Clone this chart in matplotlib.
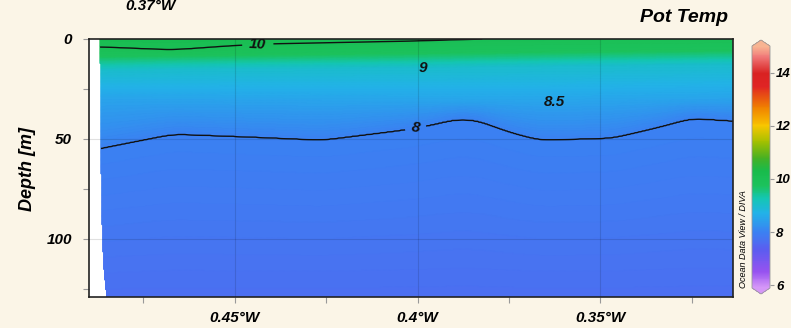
import numpy as np
import matplotlib.pyplot as plt
from matplotlib.colors import LinearSegmentedColormap

# Isotherm depths (m) along the section, longitude in degrees (negative = W)
lon_10 = [-0.49, -0.4863, -0.4669, -0.452, -0.442, -0.4014, -0.383, -0.35, -0.3137]
dep_10 = [4.0, 4.0, 5.5, 3.5, 2.5, 1.0, 0.0, -1.0, -1.5]

lon_98 = [-0.49, -0.40, -0.3137]
dep_98 = [9.0, 7.5, 6.0]

lon_9 = [-0.49, -0.45, -0.40, -0.35, -0.3137]
dep_9 = [16.0, 15.0, 14.5, 13.5, 13.0]

lon_85 = [-0.49, -0.42, -0.36, -0.3137]
dep_85 = [30.0, 31.0, 31.5, 30.0]

lon_8 = [-0.49, -0.4863, -0.4669, -0.445, -0.426, -0.4041, -0.3976, -0.3893,
         -0.3839, -0.3749, -0.3667, -0.3467, -0.3339, -0.3249, -0.3137]
dep_8 = [56.0, 54.5, 47.5, 49.0, 50.5, 45.5, 43.5, 40.0,
         40.5, 46.5, 50.5, 49.5, 44.0, 39.5, 41.0]

t_top = 10.3     # value above the surface, sets surface temp by interpolation
t_bottom = 7.65  # temp at the bottom of the section

# western edge of the gridded field
edge_depth = [0, 50, 100, 115, 125, 131]
edge_lon = [-0.4869, -0.4868, -0.4863, -0.4859, -0.4854, -0.4850]

xticks = [-0.45, -0.40, -0.35]
xticklabels = ["0.45°W", "0.4°W", "0.35°W"]
yticks = [0, 50, 100]
cbar_ticks = [6, 8, 10, 12, 14]

bg = "#fbf5e7"
font = "Liberation Sans"

vmin, vmax = 5.9, 15.0


def pos(v):
    return (v - vmin) / (vmax - vmin)


# ODV-like rainbow palette
cmap = LinearSegmentedColormap.from_list("odv", [
    (pos(5.9), "#d597f7"), (pos(6.5), "#9652f0"), (pos(7.3), "#5c5cf0"),
    (pos(8.0), "#3a82f2"), (pos(8.7), "#22b2e8"), (pos(9.25), "#14c6b4"),
    (pos(9.75), "#1cc25c"), (pos(10.3), "#18bb4c"), (pos(10.8), "#48b022"),
    (pos(11.4), "#a4c000"), (pos(12.0), "#f8c600"), (pos(12.7), "#f08000"),
    (pos(13.5), "#e02424"), (pos(14.0), "#d82222"), (pos(14.6), "#f07878"),
    (pos(15.0), "#f8b492"),
])


def smooth(y, sigma=12):
    k = np.exp(-0.5 * (np.arange(-3 * sigma, 3 * sigma + 1) / sigma) ** 2)
    k /= k.sum()
    return np.convolve(np.pad(y, 3 * sigma, mode="edge"), k, mode="valid")


lon = np.linspace(-0.4899, -0.3137, 700)
depth = np.linspace(0, 131, 300)

d10 = smooth(np.interp(lon, lon_10, dep_10))
d98 = smooth(np.interp(lon, lon_98, dep_98))
d9 = smooth(np.interp(lon, lon_9, dep_9))
d85 = smooth(np.interp(lon, lon_85, dep_85))
d8 = smooth(np.interp(lon, lon_8, dep_8), sigma=9)

T = np.empty((depth.size, lon.size))
for j in range(lon.size):
    knots = [-5.0, d10[j], max(d98[j], d10[j] + 1), d9[j], d85[j], d8[j], 131.0]
    T[:, j] = np.interp(depth, knots, [t_top, 10, 9.75, 9, 8.5, 8, t_bottom])

LON, DEP = np.meshgrid(lon, depth)
T = np.ma.masked_where(LON < np.interp(DEP, edge_depth, edge_lon), T)

fig = plt.figure(figsize=(7.91, 3.28), dpi=100, facecolor=bg)
ax = fig.add_axes([89 / 791, 31 / 328, 644 / 791, 258 / 328])
ax.set_facecolor("white")

mesh = ax.pcolormesh(lon, depth, T, cmap=cmap, vmin=vmin, vmax=vmax,
                     shading="gouraud", rasterized=True)

cs = ax.contour(lon, depth, T, levels=[8, 8.5, 9, 10], colors="#111111",
                linewidths=[1.0, 0, 0, 1.0])
labels = ax.clabel(cs, fmt={8: "8", 8.5: "8.5", 9: "9", 10: "10"},
                   manual=[(-0.4437, 3.5), (-0.3986, 14.5), (-0.3626, 31.5), (-0.4005, 45)],
                   inline=True, inline_spacing=6, fontsize=11)
for t in labels:
    t.set_fontfamily(font)
    t.set_fontweight("bold")
    t.set_fontstyle("italic")

for x in xticks:
    ax.axvline(x, color="k", alpha=0.12, lw=0.8)
for y in yticks[1:]:
    ax.axhline(y, color="k", alpha=0.12, lw=0.8)

ax.set_xlim(-0.4899, -0.3137)
ax.set_ylim(129, 0)
ax.set_xticks(xticks)
ax.set_xticklabels(xticklabels)
ax.set_xticks([-0.475, -0.425, -0.375, -0.325], minor=True)
ax.set_yticks(yticks)
ax.set_yticks([25, 75, 125], minor=True)
ax.tick_params(which="both", direction="out", length=4, color="#999999", width=0.8)
ax.tick_params(axis="y", pad=8)
ax.tick_params(axis="x", pad=6)
for lab in ax.get_xticklabels() + ax.get_yticklabels():
    lab.set_fontfamily(font)
    lab.set_fontweight("bold")
    lab.set_fontstyle("italic")
    lab.set_fontsize(11)
for s in ax.spines.values():
    s.set_color("#222222")
    s.set_linewidth(1.2)

fig.text(27 / 791, 1 - 169 / 328, "Depth [m]", rotation=90, ha="center", va="center",
         fontsize=13, fontweight="bold", fontstyle="italic", family=font)
fig.text(728 / 791, 1 - 17 / 328, "Pot Temp", ha="right", va="center",
         fontsize=14, fontweight="bold", fontstyle="italic", family=font)
fig.text(150 / 791, 1 - 6 / 328, "0.37°W", ha="center", va="center",
         fontsize=11, fontweight="bold", fontstyle="italic", family=font)
fig.text(743 / 791, 1 - 239 / 328, "Ocean Data View / DIVA", rotation=90,
         ha="center", va="center", fontsize=6.5, fontstyle="italic", family=font)

cax = fig.add_axes([752 / 791, 1 - 294 / 328, 18 / 791, 254 / 328])
cb = fig.colorbar(mesh, cax=cax, extend="both", extendfrac=0.025, ticks=cbar_ticks)
cb.outline.set_edgecolor("#999999")
cb.outline.set_linewidth(0.6)
cax.tick_params(length=3, color="#999999", pad=1.5)
for lab in cax.get_yticklabels():
    lab.set_fontfamily(font)
    lab.set_fontweight("bold")
    lab.set_fontstyle("italic")
    lab.set_fontsize(9.5)

fig.savefig("out.png", dpi=100, facecolor=bg)
